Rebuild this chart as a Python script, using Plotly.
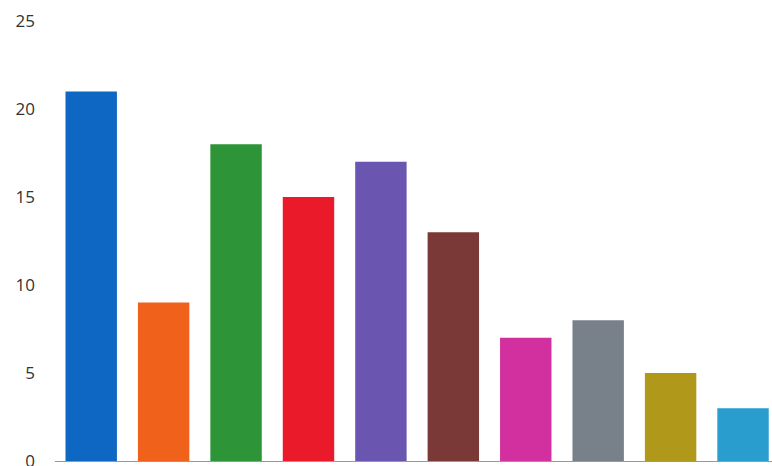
import plotly.graph_objects as go

categories = ["A", "B", "C", "D", "E", "F", "G", "H", "I", "J"]
values = [21, 9, 18, 15, 17, 13, 7, 8, 5, 3]
colors = ["#0f67c4", "#f0611c", "#2e9438", "#ea1a2a", "#6a55b0",
          "#7a3837", "#d2309e", "#788089", "#b0981a", "#2a9dcf"]
y_ticks = [0, 5, 10, 15, 20, 25]

fig = go.Figure(go.Bar(x=categories, y=values, marker=dict(color=colors, line=dict(width=0)),
                       showlegend=False))
fig.update_layout(
    width=772, height=490,
    margin=dict(l=55, r=0, t=21, b=29),
    paper_bgcolor="white", plot_bgcolor="white",
    bargap=0.29,
    font=dict(family="Open Sans", size=17, color="#333"),
)
fig.update_xaxes(range=[-0.5, 9.4], showticklabels=False, showgrid=False, zeroline=False,
                 showline=True, linecolor="#999", linewidth=1, ticks="")
fig.update_yaxes(range=[0, 25], tickvals=y_ticks, showgrid=False, zeroline=False,
                 showline=False, ticks="", ticklabelstandoff=19)
fig.write_html("out.html", config={"displayModeBar": False},
               post_script="document.body.style.margin='0';document.body.style.overflow='hidden';")
